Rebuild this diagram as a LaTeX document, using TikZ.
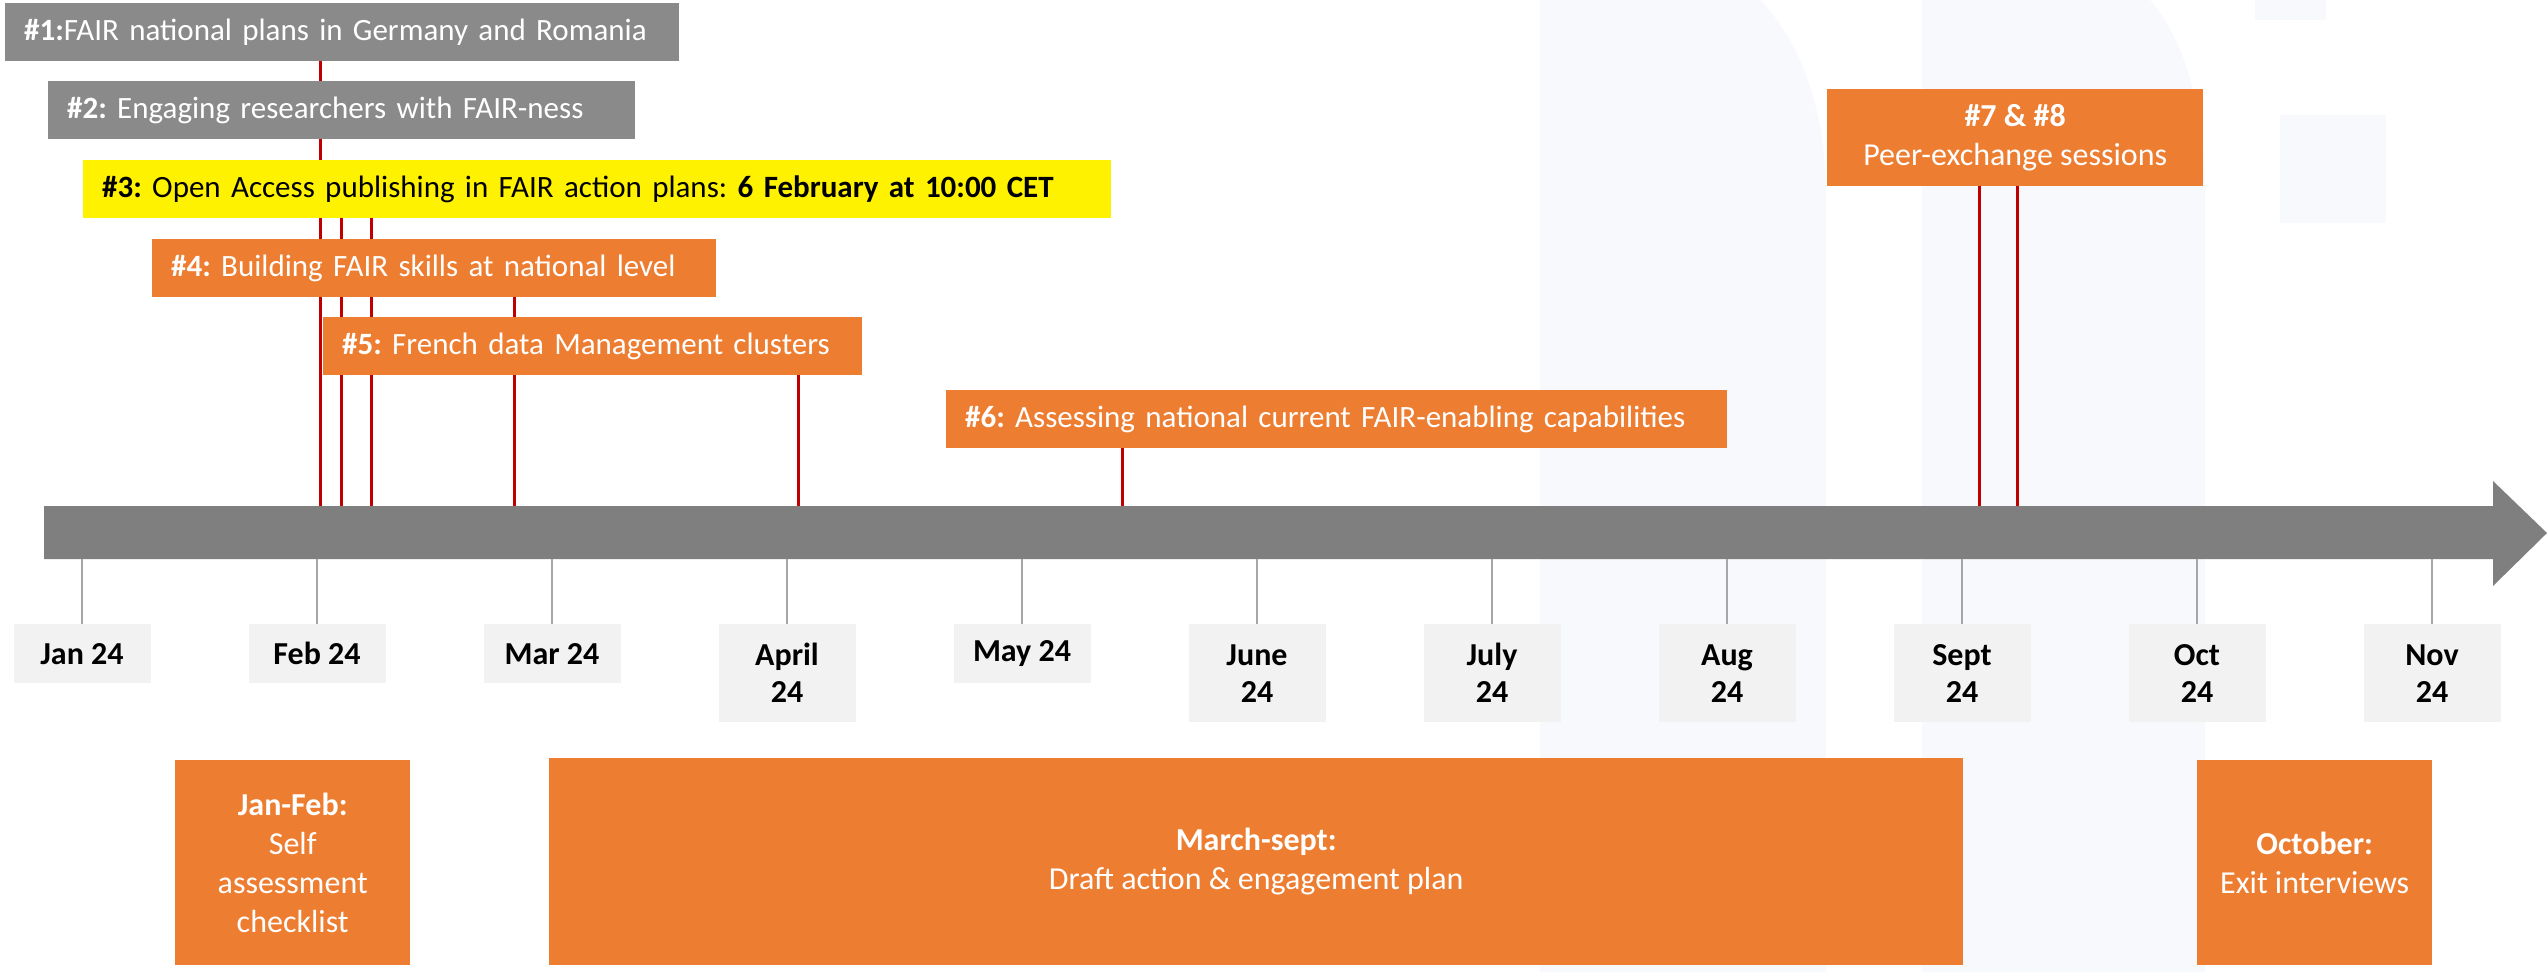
\documentclass[tikz,border=0pt]{standalone}
\usepackage{fontspec}
\setmainfont{Carlito}
\frenchspacing
\usetikzlibrary{backgrounds}
\definecolor{boxgrey}{HTML}{8A8A8A}
\definecolor{bargrey}{HTML}{7F7F7F}
\definecolor{fairorange}{HTML}{ED7D31}
\definecolor{monthbg}{HTML}{F2F2F2}
\definecolor{tickgrey}{HTML}{A6A6A6}
\definecolor{pinred}{HTML}{C00000}
\definecolor{wmark}{HTML}{F8F9FC}
\begin{document}
\begin{tikzpicture}[x=1pt, y=-1pt, font=\fontsize{32}{39}\selectfont,
	event/.style={inner xsep=19pt, inner ysep=0pt, minimum height=58pt, anchor=north west, align=left, font=\fontsize{31}{38}\selectfont},
	evgrey/.style={event, fill=boxgrey, text=white},
	evyellow/.style={event, fill=yellow, text=black},
	evorange/.style={event, fill=fairorange, text=white},
	monthbox/.style={fill=monthbg, minimum width=137pt, inner sep=0pt, align=center, anchor=north, font=\fontsize{32}{37}\selectfont\bfseries},
	phase/.style={fill=fairorange, text=white, inner sep=0pt, align=center, anchor=north west},
	pin/.style={draw=pinred, line width=3pt},
	tick/.style={draw=tickgrey, line width=2pt}]
		\def\dx{235} \def\xjan{82}
		\useasboundingbox (0,0) rectangle (2547,972);
		\coordinate (bartop) at (0,506);
		\coordinate (barbot) at (0,559);
		% timeline
		\fill[bargrey] (44,506)--(2493,506)--(2493,481)--(2547,533)--(2493,586)--(2493,559)--(44,559)--cycle;
		\foreach \m/\h [count=\i from 0] in {Jan 24/59, Feb 24/59, Mar 24/59, April\\24/98, May 24/59, June\\24/98, July\\24/98, Aug\\24/98, Sept\\24/98, Oct\\24/98, Nov\\24/98}{
			\node[monthbox, minimum height=\h pt] (m\i) at ({\xjan+\dx*\i},624) {\m};
			\draw[tick] (m\i.north) -- (m\i.north |- barbot);
		}
		% events
		\node[evgrey, text width=636pt] (ev1) at (5,3) {\mbox{\textbf{\#1:}FAIR national plans in Germany and Romania}};
		\node[evgrey, text width=549pt] (ev2) at (48,81) {\mbox{\textbf{\#2:} Engaging researchers with FAIR-ness}};
		\node[evyellow, text width=990pt] (ev3) at (83,160) {\mbox{\textbf{\#3:} Open Access publishing in FAIR action plans: \textbf{6 February at 10:00 CET}}};
		\node[evorange, text width=526pt] (ev4) at (152,239) {\mbox{\textbf{\#4:} Building FAIR skills at national level}};
		\node[evorange, text width=501pt] (ev5) at (323,317) {\mbox{\textbf{\#5:} French data Management clusters}};
		\node[evorange, text width=743pt] (ev6) at (946,390) {\mbox{\textbf{\#6:} Assessing national current FAIR-enabling capabilities}};
		\node[phase, minimum width=376pt, minimum height=97pt] (ev7) at (1827,89) {\textbf{\#7 \& \#8}\\Peer-exchange sessions};
		% phases
		\node[phase, minimum width=235pt, minimum height=205pt] (ph1) at (175,760) {\textbf{Jan-Feb:}\\Self\\assessment\\checklist};
		\node[phase, minimum width=1414pt, minimum height=207pt] (ph2) at (549,758) {\textbf{March-sept:}\\Draft action \& engagement plan};
		\node[phase, minimum width=235pt, minimum height=205pt] (ph3) at (2197,760) {\textbf{October:}\\Exit interviews};
		\begin{scope}[on background layer]
			\fill[wmark] (1540,972)--(1540,0)--(1760,0) .. controls (1800,40) and (1826,110) .. (1826,195)--(1826,972)--cycle;
			\fill[wmark] (1922,972)--(1922,0)--(2150,0) .. controls (2185,40) and (2205,110) .. (2205,195)--(2205,972)--cycle;
			\fill[wmark] (2280,115) rectangle (2386,223);
			\fill[wmark] (2255,0) rectangle (2326,20);
			\foreach \b/\x in {ev1/320, ev3/341, ev3/371, ev4/514, ev5/798, ev6/1122, ev7/1979, ev7/2017}
				\draw[pin] (\x,0 |- \b.south) -- (\x,0 |- bartop);
		\end{scope}
	\end{tikzpicture}
\end{document}
